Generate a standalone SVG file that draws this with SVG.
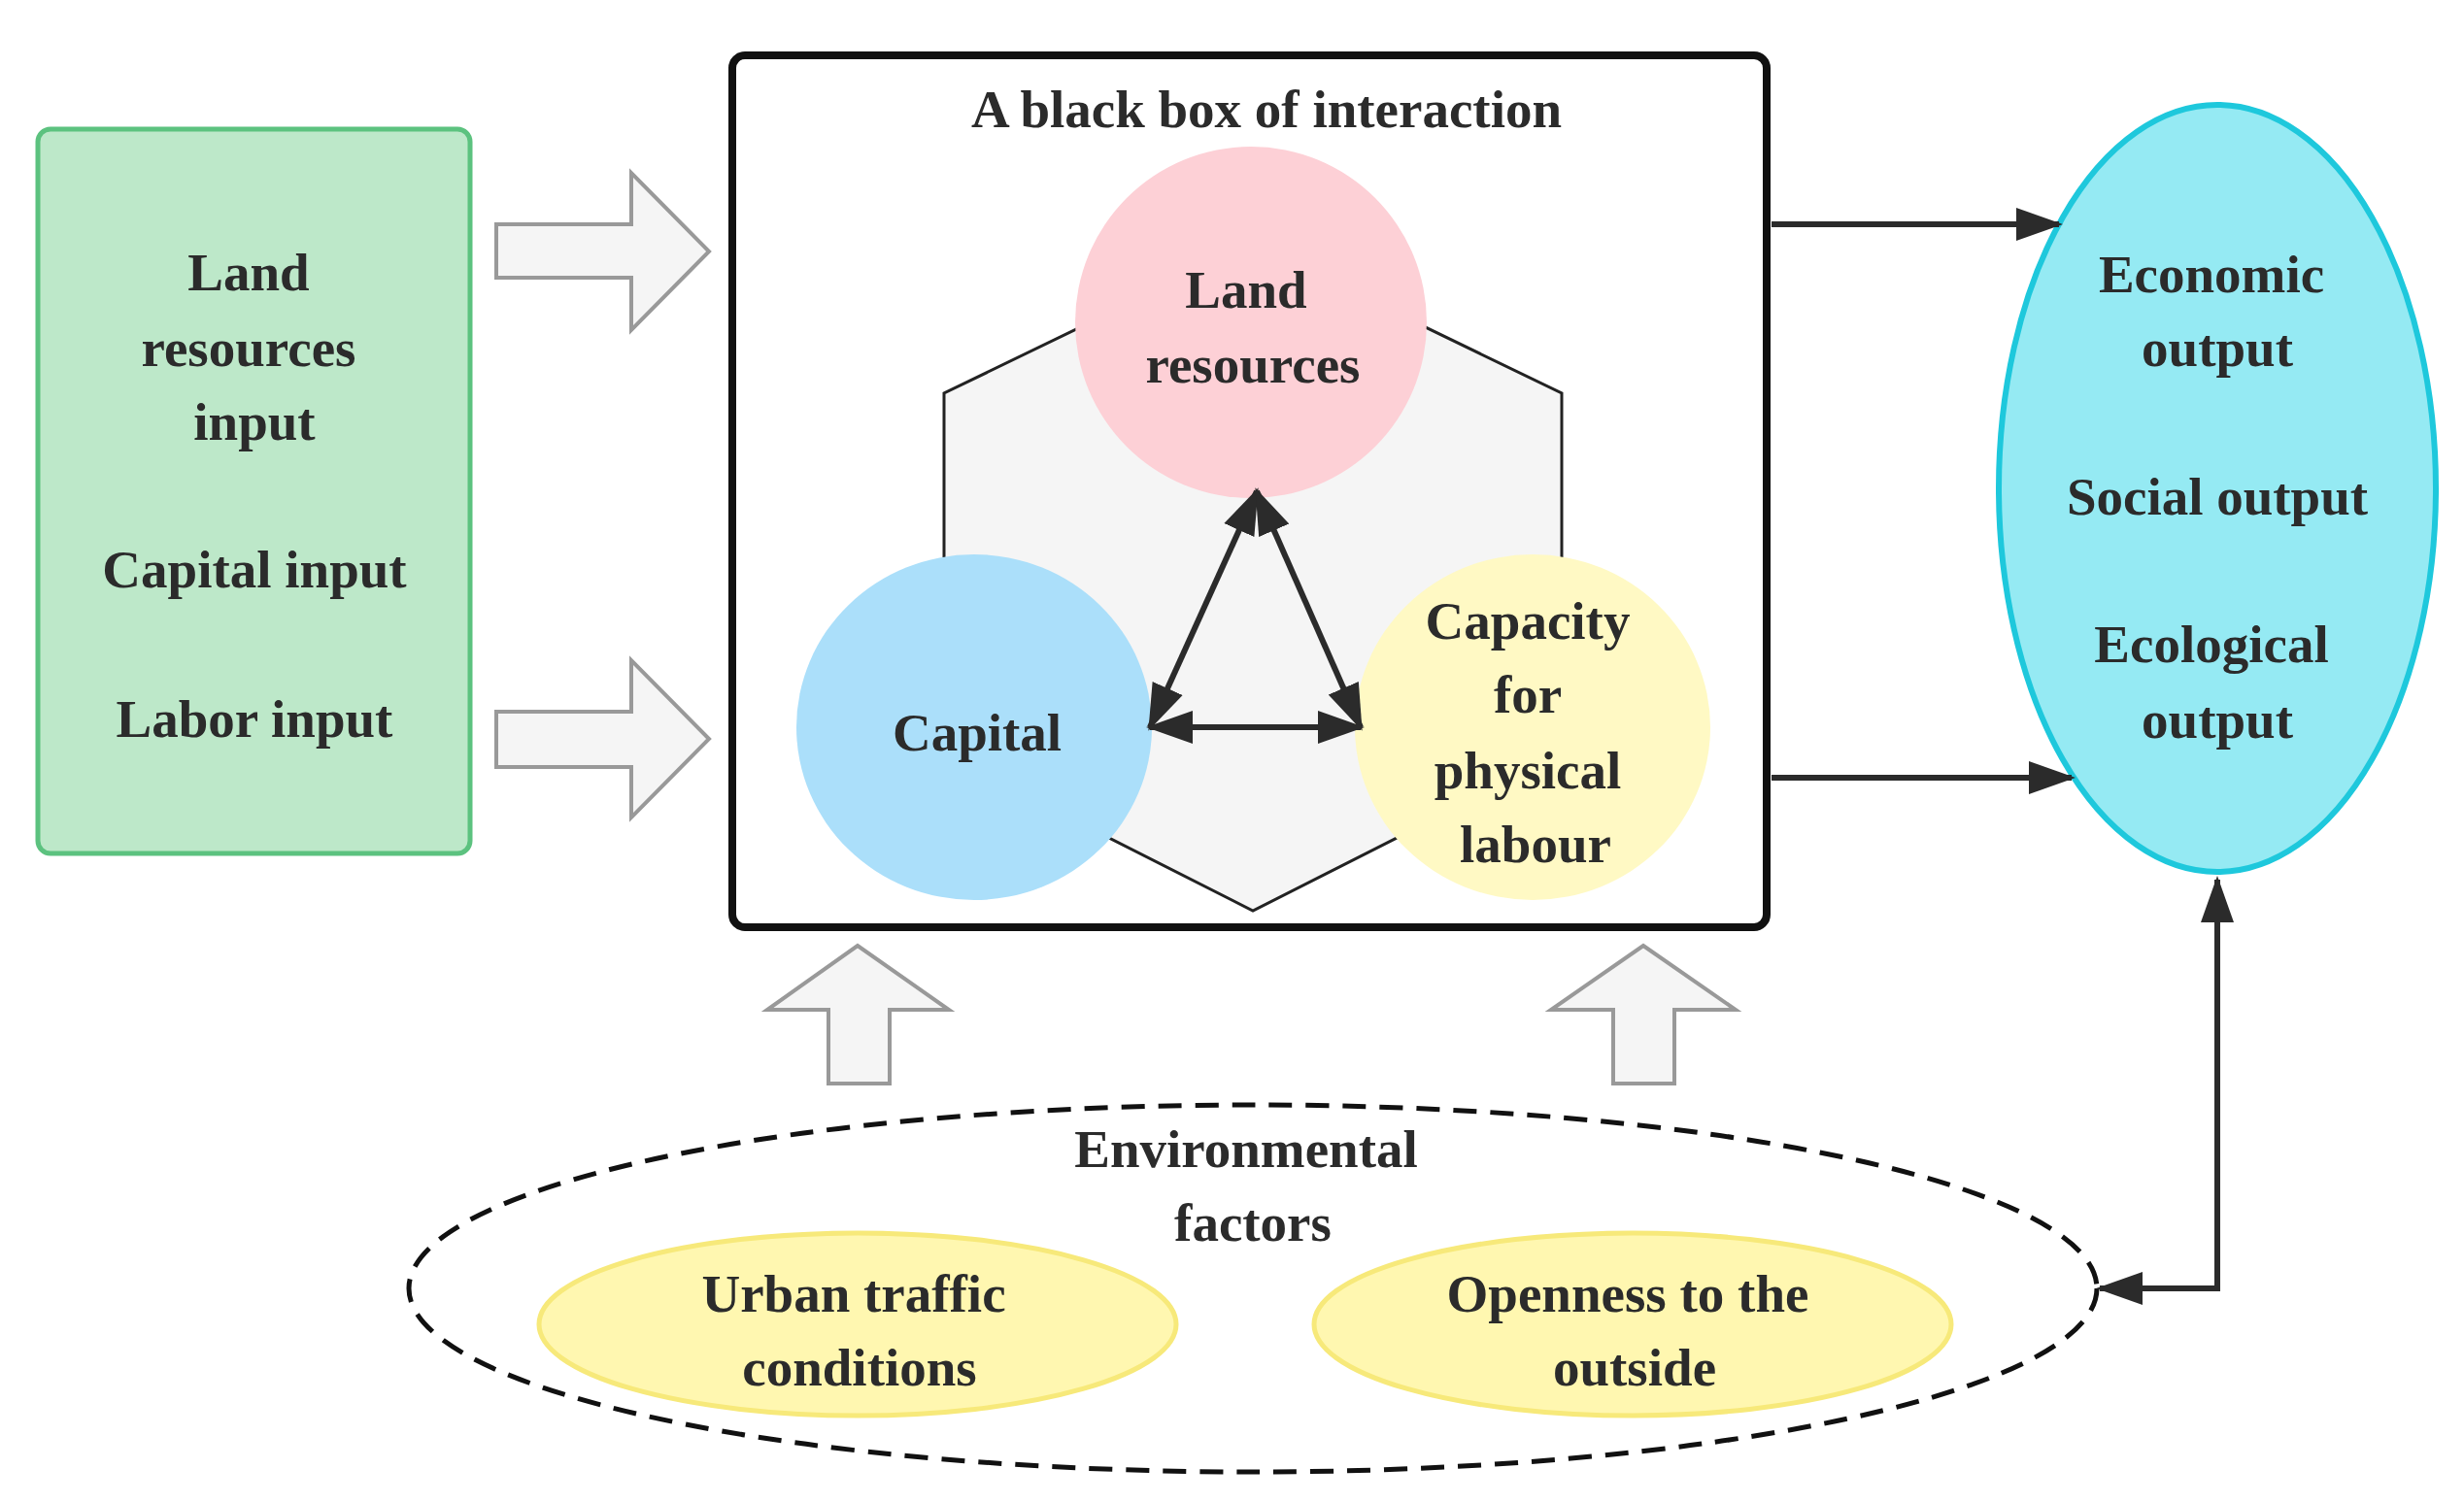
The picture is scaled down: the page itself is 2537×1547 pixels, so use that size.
<svg xmlns="http://www.w3.org/2000/svg" width="2537" height="1547" viewBox="0 0 2537 1547">
<style>
text{font-family:"Liberation Serif","DejaVu Serif",serif;font-weight:bold;font-size:55px;fill:#2b2b2b;text-anchor:middle;dominant-baseline:central}
.blk{fill:#f5f5f5;stroke:#999;stroke-width:4;stroke-linejoin:miter}
.con{fill:none;stroke:#2b2b2b;stroke-width:6}
</style>
<defs>
<marker id="ah" markerUnits="userSpaceOnUse" markerWidth="50" markerHeight="40" refX="44" refY="20" orient="auto-start-reverse" viewBox="0 0 50 40">
<path d="M0,3 L48,20 L0,37 Z" fill="#2b2b2b"/>
</marker>
</defs>
<rect width="2537" height="1547" fill="#fff"/>
<g id="inputs">
<rect x="39" y="133" width="445" height="746" rx="13" fill="#bde8c9" stroke="#5cc27f" stroke-width="5"/>
<text x="256" y="280">Land</text><text x="256" y="358">resources</text><text x="262" y="434">input</text>
<text x="262" y="586">Capital input</text><text x="262" y="740">Labor input</text>
</g>
<g id="blackbox">
<rect x="754" y="57" width="1065" height="898" rx="13" fill="#fff" stroke="#111" stroke-width="8"/>
<text x="1304" y="112" font-size="52">A black box of interaction</text>
<polygon points="1290,251 1608,405 1608,777 1290,938 972,777 972,405" fill="#f5f5f5" stroke="#222" stroke-width="3"/>
</g>
<g id="land"><circle cx="1288" cy="332" r="181" fill="#fdd0d6"/><text x="1283" y="298">Land</text><text x="1290" y="375">resources</text></g>
<g id="capital"><ellipse cx="1003" cy="749" rx="183" ry="178" fill="#abdffa"/><text x="1006" y="754">Capital</text></g>
<g id="labour"><ellipse cx="1578" cy="749" rx="183" ry="178" fill="#fff9c4"/><text x="1573" y="639">Capacity</text><text x="1573" y="715">for</text><text x="1573" y="793">physical</text><text x="1581" y="869">labour</text></g>
<g id="outputs">
<ellipse cx="2283" cy="503" rx="225" ry="395" fill="#95eaf3" stroke="#1ec8dc" stroke-width="6"/>
<text x="2277" y="282">Economic</text><text x="2283" y="358">output</text><text x="2283" y="511">Social output</text><text x="2277" y="663">Ecological</text><text x="2283" y="741">output</text>
</g>
<g id="environment">
<ellipse cx="1290" cy="1327" rx="869" ry="189" fill="none" stroke="#111" stroke-width="5" stroke-dasharray="24 14"/>
<text x="1283" y="1183">Environmental</text><text x="1290" y="1259">factors</text>
</g>
<g id="traffic"><ellipse cx="883" cy="1364" rx="328" ry="94" fill="#fff7b0" stroke="#f7e97a" stroke-width="5"/><text x="879" y="1332">Urban traffic</text><text x="885" y="1408">conditions</text></g>
<g id="openness"><ellipse cx="1681" cy="1364" rx="328" ry="94" fill="#fff7b0" stroke="#f7e97a" stroke-width="5"/><text x="1676" y="1332">Openness to the</text><text x="1683" y="1408">outside</text></g>
<g id="connectors">
<path class="blk" d="M511,231 H650 V178 L730,259 L650,340 V286 H511 Z"/>
<path class="blk" d="M511,733 H650 V680 L730,761 L650,842 V790 H511 Z"/>
<path class="blk" d="M853,1116 V1040 H790 L883,974 L977,1040 H916 V1116 Z"/>
<path class="blk" d="M1661,1116 V1040 H1597 L1692,974 L1787,1040 H1724 V1116 Z"/>
<line class="con" x1="1824" y1="231" x2="2120" y2="231" marker-end="url(#ah)"/>
<line class="con" x1="1824" y1="801" x2="2133" y2="801" marker-end="url(#ah)"/>
<path class="con" d="M2162,1327 H2283 V906" marker-start="url(#ah)" marker-end="url(#ah)"/>
<line class="con" x1="1294" y1="506" x2="1184" y2="749" marker-start="url(#ah)" marker-end="url(#ah)"/>
<line class="con" x1="1294" y1="506" x2="1401" y2="749" marker-start="url(#ah)" marker-end="url(#ah)"/>
<line class="con" x1="1184" y1="749" x2="1401" y2="749" marker-start="url(#ah)" marker-end="url(#ah)"/>
</g>
</svg>
